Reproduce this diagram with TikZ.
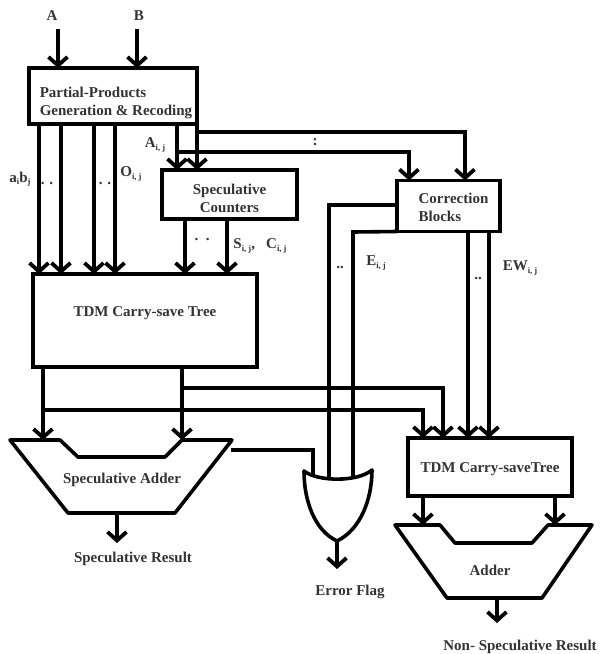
\documentclass[tikz,border=0pt]{standalone}
\usepackage{fontspec}
\setmainfont{Liberation Serif}
\usetikzlibrary{arrows.meta, positioning, calc}
\newcommand{\sbs}[1]{\raisebox{-2.5pt}{\fontsize{8.5}{8.5}\selectfont #1}}

\begin{document}
\begin{tikzpicture}[
    x=1pt, y=-1pt,
    box/.style={rectangle, draw=black, line width=3.8pt, align=left, inner sep=0pt, outer sep=0pt, text=black!80, font=\bfseries\fontsize{15}{18}\selectfont},
    wire/.style={draw=black, line width=3.6pt},
    arrow/.style={wire, -{Straight Barb[length=8.5pt, width=19pt, line width=3.8pt]}},
    lbl/.style={inner sep=0pt, text=black!80, font=\bfseries\fontsize{15}{18}\selectfont}
]
    \useasboundingbox (0,0) rectangle (600,654);

    % Nodes
    \node[lbl] (inA) at (52,16) {A};
    \node[lbl] (inB) at (139,16) {B};
    \node[box, minimum width=168pt, minimum height=56pt] (pp) at (113,96) {\rule{0pt}{25pt}\hspace*{6pt}Partial-Products\\\hspace*{6pt}Generation \& Recoding};
    \node[box, minimum width=135pt, minimum height=49pt, align=center] (spec) at (229.5,194.5) {\rule{0pt}{18pt}Speculative\\Counters};
    \node[box, minimum width=103pt, minimum height=51pt] (corr) at (448.5,206) {\rule{0pt}{14pt}\hspace*{10pt}Correction\\\hspace*{10pt}Blocks};
    \node[box, minimum width=224pt, minimum height=93pt] (tree) at (145,320.5) {\raisebox{17pt}{TDM Carry-save Tree}};
    \node[box, minimum width=164pt, minimum height=58pt] (tree2) at (490,467) {\rule{0pt}{14pt}TDM Carry-saveTree};

    \node[lbl] (sadder) at (122,480) {Speculative Adder};
    \node[lbl] (sresult) at (133,559) {Speculative Result};
    \node[lbl] (adder) at (490,570) {Adder};
    \node[lbl] (nresult) at (520,647) {Non- Speculative Result};
    \node[lbl] (eflag) at (350,592) {Error Flag};

    % Speculative adder, second adder and the OR gate
    \draw[wire, line join=round] (10,440) -- (43,440) coordinate (sain1) -- (60,440) -- (78,457) -- (165,457) -- (182,440) coordinate (sain2) -- (232,440) -- (175,513) -- (117,513) coordinate (saout) -- (68,513) -- cycle;
    \draw[wire, line join=round] (395,525) -- (423,525) coordinate (adin1) -- (440,525) -- (455,543) -- (532,543) -- (548,525) -- (592,525) -- (542,598) -- (497,598) coordinate (adout) -- (447,598) -- cycle;
    \draw[wire, line join=round] (304,471) .. controls (318,482) and (358,482) .. (372,470) .. controls (372,500) and (360,530) .. (337,541) .. controls (314,530) and (304,500) .. (304,471) -- cycle;

    % Columns and wire heights
    \coordinate (orout) at (337,541);
    \coordinate (orin1) at (313,475);
    \coordinate (orin2) at (329,478);
    \coordinate (orin3) at (353,478);
    \coordinate (inacol) at (58,29);
    \coordinate (inbcol) at (137,29);
    \coordinate (ab1) at (39,0);
    \coordinate (ab2) at (61,0);
    \coordinate (ab3) at (94,0);
    \coordinate (ab4) at (115,0);
    \coordinate (ai1) at (177,152);
    \coordinate (ai2) at (197,132);
    \coordinate (sc1) at (185,0);
    \coordinate (sc2) at (227,0);
    \coordinate (cb1) at (409,0);
    \coordinate (cb2) at (465,0);
    \coordinate (ew1) at (468,0);
    \coordinate (ew2) at (489,0);
    \coordinate (tr1) at (423,410);
    \coordinate (tr2) at (443,388);
    \coordinate (sum1) at (43,410);
    \coordinate (sum2) at (182,388);
    \coordinate (etap) at (329,205);
    \coordinate (etap2) at (353,232);
    \coordinate (satap) at (231,450);
    \coordinate (adin2) at (555,525);
    \coordinate (saend) at (117,543);
    \coordinate (orend) at (337,569);
    \coordinate (adend) at (497,623);

    % Arrows
    \draw[arrow] (inacol) -- (pp.north -| inacol);
    \draw[arrow] (inbcol) -- (pp.north -| inbcol);

    \draw[arrow] (pp.south -| ab1) -- (tree.north -| ab1);
    \draw[arrow] (pp.south -| ab2) -- (tree.north -| ab2);
    \draw[arrow] (pp.south -| ab3) -- (tree.north -| ab3);
    \draw[arrow] (pp.south -| ab4) -- (tree.north -| ab4);

    \draw[arrow] (pp.south -| ai1) -- (spec.north -| ai1);
    \draw[arrow] (pp.south -| ai2) -- (spec.north -| ai2);
    \draw[arrow] (ai1) -| (corr.north -| cb1);
    \draw[arrow] (ai2) -| (corr.north -| cb2);

    \draw[arrow] (spec.south -| sc1) -- (tree.north -| sc1);
    \draw[arrow] (spec.south -| sc2) -- (tree.north -| sc2);

    \draw[wire] (corr.west |- etap) -- (etap) -- (orin2);
    \draw[wire] (corr.south west) -- (etap2) -- (orin3);
    \draw[arrow] (corr.south -| ew1) -- (tree2.north -| ew1);
    \draw[arrow] (corr.south -| ew2) -- (tree2.north -| ew2);

    \draw[arrow] (tree.south -| sain1) -- (sain1);
    \draw[arrow] (tree.south -| sain2) -- (sain2);
    \draw[arrow] (sum1) -| (tree2.north -| tr1);
    \draw[arrow] (sum2) -| (tree2.north -| tr2);

    \draw[wire] (satap) -| (orin1);
    \draw[arrow] (saout) -- (saend);
    \draw[arrow] (orout) -- (orend);
    \draw[arrow] (tree2.south -| adin1) -- (adin1);
    \draw[arrow] (tree2.south -| adin2) -- (adin2);
    \draw[arrow] (adout) -- (adend);

    % Labels
    \node[lbl] (labab) at (20,179) {a\sbs{i}b\sbs{j}};
    \node[lbl] (dots1) at (47,183) {. .};
    \node[lbl] (dots2) at (105,183) {. .};
    \node[lbl] (labo) at (131,174) {O\sbs{i, j}};
    \node[lbl] (laba) at (155,145) {A\sbs{i, j}};
    \node[lbl] (dots3) at (202,239) {.\ \ .};
    \node[lbl] (labsc) at (260,246) {S\sbs{i, j},\ \ \ C\sbs{i, j}};
    \node[lbl] (dots4) at (315,142) {:};
    \node[lbl] (dots5) at (340,267) {..};
    \node[lbl] (labe) at (376,263) {E\sbs{i, j}};
    \node[lbl] (dots6) at (478,278) {..};
    \node[lbl] (labew) at (520,268) {EW\sbs{i, j}};

\end{tikzpicture}
\end{document}
